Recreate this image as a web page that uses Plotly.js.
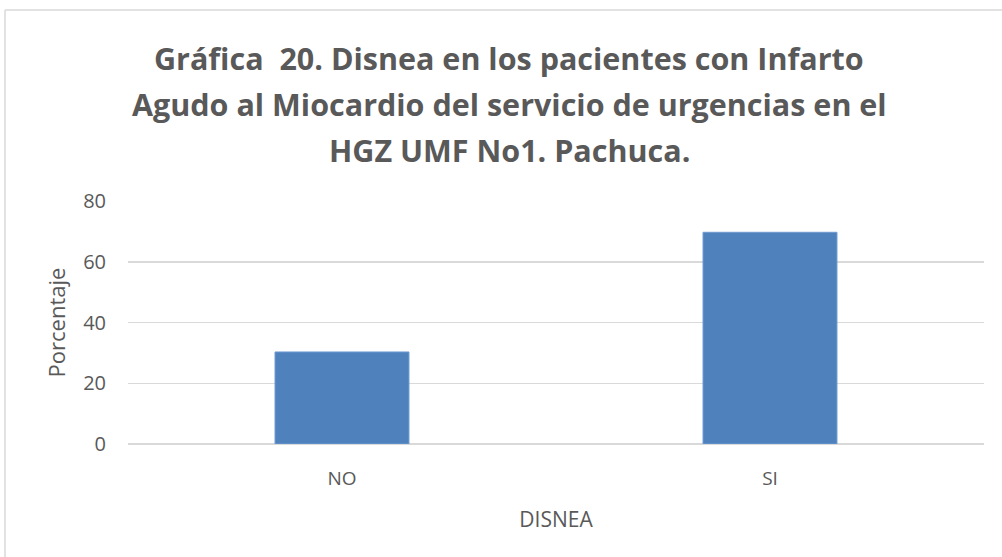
<!DOCTYPE html>
<html>
<head>
<meta charset="utf-8">
<script src="https://cdn.plot.ly/plotly-3.0.1.min.js"></script>
<style>
  html, body { margin: 0; padding: 0; background: #ffffff; }
  #chart { width: 1002px; height: 557px; }
</style>
</head>
<body>
<div id="chart"></div>
<script>
const categories = ["NO", "SI"];
const values = [30.3, 69.7];
const yTickValues = [0, 20, 40, 60, 80];
const titleLines = [
  "Gráfica  20. Disnea en los pacientes con Infarto",
  "Agudo al Miocardio del servicio de urgencias en el",
  "HGZ UMF No1. Pachuca."
];
const xAxisTitle = "DISNEA";
const yAxisTitle = "Porcentaje";

const W = 1002, H = 557;
const M = { l: 128, r: 18, t: 201, b: 113 };
const plotW = W - M.l - M.r, plotH = H - M.t - M.b;
const px2paperX = p => (p - M.l) / plotW;
const px2paperY = p => (H - M.b - p) / plotH;

const titleCenters = [58, 104, 150];
const FONT = "Open Sans, Liberation Sans, sans-serif";
const annotations = titleLines.map((t, i) => ({
  text: "<b>" + t + "</b>",
  xref: "paper", yref: "paper",
  x: px2paperX(W / 2 + 8), y: px2paperY(titleCenters[i]),
  xanchor: "center", yanchor: "middle",
  showarrow: false,
  font: { family: FONT, size: 30.5, color: "#595959" }
}));

const trace = {
  type: "bar",
  x: categories,
  y: values,
  width: 0.313,
  marker: { color: "#4F81BD", line: { color: "#6F9BD1", width: 1 } },
  hoverinfo: "x+y"
};

const layout = {
  width: W, height: H,
  margin: M,
  paper_bgcolor: "#ffffff",
  plot_bgcolor: "#ffffff",
  showlegend: false,
  font: { family: FONT, color: "#595959" },
  xaxis: {
    type: "category",
    showgrid: false,
    showline: false,
    zeroline: false,
    ticks: "",
    ticklabelstandoff: 21,
    tickfont: { size: 19, color: "#595959" },
    title: { text: xAxisTitle, font: { size: 21, color: "#595959" }, standoff: 22 }
  },
  yaxis: {
    range: [0, 80],
    tickvals: yTickValues,
    showgrid: true,
    gridcolor: "#D9D9D9",
    gridwidth: 1.5,
    zeroline: true,
    zerolinecolor: "#D9D9D9",
    zerolinewidth: 1.5,
    showline: false,
    ticks: "",
    ticklabelstandoff: 21,
    tickfont: { size: 20, color: "#595959" },
    title: { text: yAxisTitle, font: { size: 22, color: "#595959" }, standoff: 11 }
  },
  annotations: annotations,
  shapes: [
    { type: "line", xref: "paper", yref: "paper", layer: "below",
      x0: px2paperX(5), x1: px2paperX(1010), y0: px2paperY(10), y1: px2paperY(10),
      line: { color: "#D9D9D9", width: 1.5 } },
    { type: "line", xref: "paper", yref: "paper", layer: "below",
      x0: px2paperX(5), x1: px2paperX(5), y0: px2paperY(10), y1: px2paperY(570),
      line: { color: "#D9D9D9", width: 1.5 } }
  ]
};

Plotly.newPlot("chart", [trace], layout, { displayModeBar: false, staticPlot: true });
</script>
</body>
</html>
